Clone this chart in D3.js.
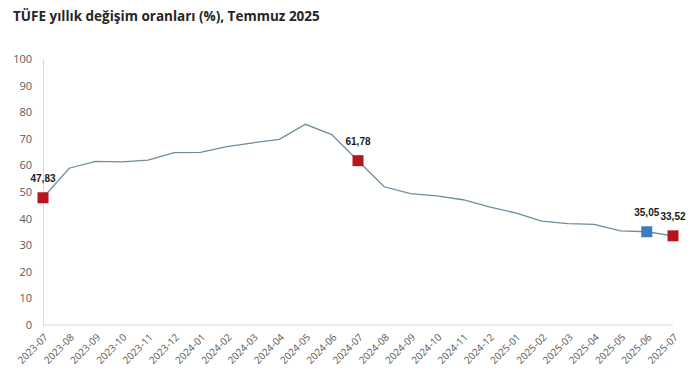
<!DOCTYPE html>
<html><head><meta charset="utf-8">
<script src="https://cdn.jsdelivr.net/npm/d3@7"></script>
<style>
html,body{margin:0;padding:0;background:#fff;}
svg{display:block;font-family:"Open Sans","Noto Sans",sans-serif;}
</style></head>
<body><svg id="c" width="700" height="377"></svg>
<script>
const months = ["2023-07","2023-08","2023-09","2023-10","2023-11","2023-12","2024-01","2024-02","2024-03","2024-04","2024-05","2024-06","2024-07","2024-08","2024-09","2024-10","2024-11","2024-12","2025-01","2025-02","2025-03","2025-04","2025-05","2025-06","2025-07"];
const values = [47.83,58.94,61.53,61.36,61.98,64.77,64.86,67.07,68.50,69.80,75.45,71.60,61.78,51.97,49.38,48.58,47.09,44.38,42.12,39.05,38.10,37.86,35.41,35.05,33.52];
const yTicks = [0,10,20,30,40,50,60,70,80,90,100];
const highlighted = [
  {month:"2023-07", label:"47,83", color:"#b5161e"},
  {month:"2024-07", label:"61,78", color:"#b5161e"},
  {month:"2025-06", label:"35,05", color:"#3b7dbf"},
  {month:"2025-07", label:"33,52", color:"#b5161e"}
];
const title = "TÜFE yıllık değişim oranları (%), Temmuz 2025";

const svg = d3.select("#c");
const x = d3.scalePoint().domain(months).range([43, 673]);
const y = d3.scaleLinear().domain([0,100]).range([325, 59]);

svg.append("text").attr("x",13).attr("y",21).attr("font-size",13.5).attr("font-weight","bold")
  .attr("fill","#262626").text(title);

// y axis
const ya = svg.append("g").attr("transform","translate(43,0)")
  .call(d3.axisLeft(y).tickValues(yTicks).tickSize(0).tickPadding(11));
ya.select(".domain").attr("stroke","#d9d9d9");
ya.selectAll("text").attr("font-size",11).attr("fill","#595959").attr("font-family","'Open Sans',sans-serif");

// x axis
const xa = svg.append("g").attr("transform","translate(0,325)")
  .call(d3.axisBottom(x).tickSize(0).tickPadding(0));
xa.select(".domain").attr("stroke","#d9d9d9").attr("d","M43,0H673");
xa.selectAll("text").attr("font-size",10).attr("fill","#595959").attr("font-family","'Open Sans',sans-serif")
  .attr("text-anchor","end").attr("dy",0)
  .attr("transform","translate(5,13) rotate(-45)");

const data = months.map((m,i)=>({m, v:values[i]}));
svg.append("path").datum(data)
  .attr("fill","none").attr("stroke","#6e8d9c").attr("stroke-width",1.3)
  .attr("d", d3.line().x(d=>x(d.m)).y(d=>y(d.v)));

const s = 11;
highlighted.forEach(h=>{
  const v = values[months.indexOf(h.month)];
  svg.append("rect").attr("x",x(h.month)-s/2).attr("y",y(v)-s/2).attr("width",s).attr("height",s)
    .attr("fill",h.color);
  svg.append("text").attr("x",x(h.month)).attr("y",y(v)-16).attr("text-anchor","middle")
    .attr("font-size",10).attr("font-weight","bold").attr("fill","#1a1a1a")
    .attr("font-family","'Liberation Sans',Arial,sans-serif").text(h.label);
});
</script></body></html>
